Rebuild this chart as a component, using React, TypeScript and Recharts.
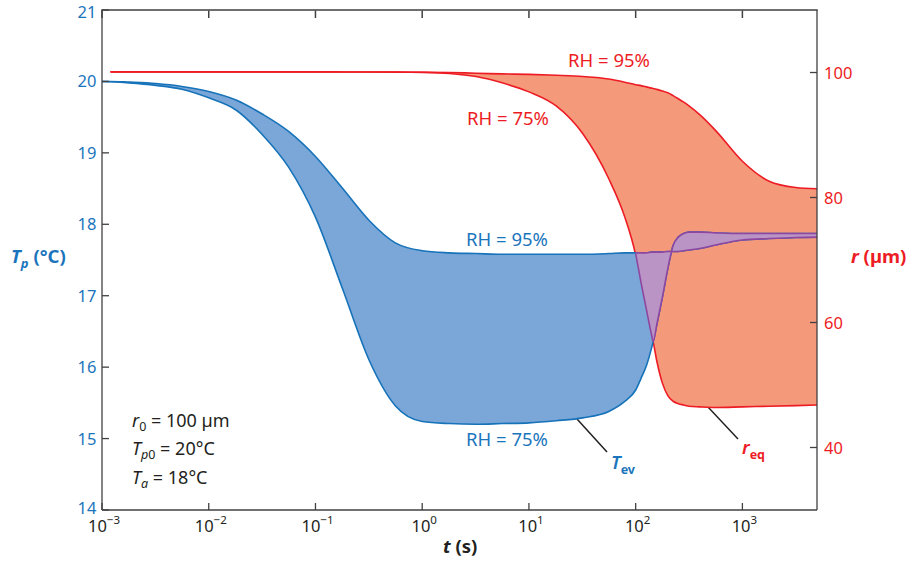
import React from 'react';
import { ComposedChart, Area, XAxis, YAxis, Customized } from 'recharts';

// time (s)
const times = [0.001, 0.0012, 0.0018, 0.0032, 0.0056, 0.01, 0.018, 0.032, 0.056, 0.1, 0.18, 0.32, 0.56, 1, 1.8, 3.2, 5.6, 10, 18, 32, 56, 79, 100, 112, 126, 141, 146, 158, 178, 200, 224, 251, 282, 316, 398, 562, 1000, 1780, 3160, 5000];
// particle temperature Tp (°C), RH = 95% and RH = 75%
const tEv95 = [20.0, 20.0, 19.99, 19.97, 19.93, 19.86, 19.74, 19.54, 19.3, 18.95, 18.5, 18.05, 17.74, 17.63, 17.6, 17.59, 17.58, 17.58, 17.58, 17.58, 17.59, 17.6, 17.6, 17.6, 17.6, 17.61, 17.61, 17.61, 17.61, 17.62, 17.62, 17.62, 17.63, 17.64, 17.66, 17.71, 17.78, 17.8, 17.815, 17.82];
const tEv75 = [20.0, 19.995, 19.98, 19.945, 19.89, 19.77, 19.6, 19.25, 18.8, 18.1, 17.09, 16.09, 15.46, 15.24, 15.21, 15.2, 15.21, 15.22, 15.25, 15.29, 15.38, 15.52, 15.68, 15.84, 16.02, 16.27, 16.36, 16.6, 16.98, 17.38, 17.7, 17.82, 17.87, 17.89, 17.89, 17.88, 17.87, 17.87, 17.87, 17.87];
// particle radius r (µm), RH = 95% and RH = 75%
const r95 = [null, 100.1, 100.1, 100.1, 100.1, 100.1, 100.1, 100.1, 100.1, 100.1, 100.09, 100.08, 100.07, 100.05, 100.0, 99.88, 99.78, 99.7, 99.55, 99.35, 98.95, 98.45, 98.05, 97.9, 97.7, 97.5, 97.45, 97.3, 97.05, 96.75, 96.3, 95.8, 95.25, 94.65, 93.25, 90.7, 85.8, 82.6, 81.6, 81.4];
const r75 = [null, 100.1, 100.1, 100.1, 100.1, 100.1, 100.1, 100.1, 100.1, 100.1, 100.09, 100.08, 100.06, 100.02, 99.85, 99.35, 98.35, 96.9, 94.65, 90.2, 83.0, 76.9, 70.8, 66.5, 62.1, 58.0, 56.9, 53.8, 50.3, 48.3, 47.4, 47.0, 46.8, 46.6, 46.5, 46.4, 46.5, 46.6, 46.7, 46.8];
// lower edge (°C) of the region where the Tp band overlaps the r band (T_eq)
const tEqEdge = [null, null, null, null, null, null, null, null, null, null, null, null, null, null, null, null, null, null, null, null, null, null, 17.59, 17.19, 16.81, 16.45, 16.36, 16.6, 16.98, 17.38, 17.7, 17.82, 17.87, 17.89, 17.89, 17.88, 17.87, 17.87, 17.87, 17.87];

const xTicks = [0.001, 0.01, 0.1, 1, 10, 100, 1000];
const xDomain = [0.001, 5000];
const tTicks = [14, 15, 16, 17, 18, 19, 20, 21];
const rTicks = [40, 60, 80, 100];

const data = times.map((t, i) => ({
  t,
  tev: [tEv75[i], tEv95[i]],
  req: r95[i] == null ? [null, null] : [r75[i], r95[i]],
  teq: tEqEdge[i] == null ? [null, null] : [tEqEdge[i], tEv95[i]],
}));

const FONT = "'Noto Sans', 'Open Sans', sans-serif";
const BLUE = '#1672b9';
const BLUE_TEXT = '#1b75bc';
const BLUE_FILL = '#7ba7d8';
const RED = '#ed1c24';
const RED_FILL = '#f5997b';
const PURPLE = '#8e46a0';
const PURPLE_FILL = '#b994c5';
const PURPLE_TEXT = '#9b59b0';
const DARK = '#231f20';
const AXIS = '#414042';

const PL = 102, PR = 817, PT = 10, PB = 510;

const LeftTick = (p: any) => {
  const v = p.payload.value;
  const dy = v === 21 ? 8 : v === 14 ? 3.5 : 6;
  return (
    <g>
      <line x1={PL} x2={PL + 7} y1={p.y} y2={p.y} stroke={AXIS} strokeWidth={1.3} />
      <text x={PL - 5.5} y={p.y + dy} textAnchor="end" fill={BLUE_TEXT} fontSize={16.5} fontFamily={FONT}>{v}</text>
    </g>
  );
};
const RightTick = (p: any) => (
  <g>
    <line x1={PR - 7} x2={PR} y1={p.y} y2={p.y} stroke={AXIS} strokeWidth={1.3} />
    <text x={PR + 7} y={p.y + 6.5} textAnchor="start" fill={RED} fontSize={16.5} fontFamily={FONT}>{p.payload.value}</text>
  </g>
);
// bottom tick: inward tick at the bottom frame + label, and the matching inward tick on the top frame
const BottomTick = (p: any) => {
  const e = Math.round(Math.log10(p.payload.value));
  return (
    <g>
      <line x1={p.x} x2={p.x} y1={PB} y2={PB - 7} stroke={AXIS} strokeWidth={1.3} />
      <line x1={p.x} x2={p.x} y1={PT + 0.5} y2={PT + 8} stroke={AXIS} strokeWidth={1.5} />
      <text x={p.x + 2} y={PB + 22} textAnchor="middle" fill={DARK} fontSize={16.5} fontFamily={FONT}>
        10<tspan fontSize={11.5} dy={-8}>{e < 0 ? '\u2212' + Math.abs(e) : String(e)}</tspan>
      </text>
    </g>
  );
};

const Annotations = () => (
  <g fontFamily={FONT}>
    {/* axis titles */}
    <text x={11} y={263} fill={BLUE_TEXT} fontSize={18.5} fontWeight="bold">
      <tspan fontStyle="italic">T</tspan>
      <tspan fontStyle="italic" fontSize={13} dy={5}>p</tspan>
      <tspan dy={-5}> (°C)</tspan>
    </text>
    <text x={851} y={263} fill={RED} fontSize={18.5} fontWeight="bold">
      <tspan fontStyle="italic">r</tspan> (µm)
    </text>
    <text x={443} y={553} fill={DARK} fontSize={18.5} fontWeight="bold">
      <tspan fontStyle="italic">t</tspan> (s)
    </text>
    {/* RH labels */}
    <text x={568} y={67} fill={RED} fontSize={18.5}>RH = 95%</text>
    <text x={467} y={125} fill={RED} fontSize={18.5}>RH = 75%</text>
    <text x={466} y={245.5} fill={BLUE_TEXT} fontSize={18.5}>RH = 95%</text>
    <text x={466} y={445.5} fill={BLUE_TEXT} fontSize={18.5}>RH = 75%</text>
    {/* leader lines */}
    <line x1={577} y1={419} x2={607} y2={452} stroke={DARK} strokeWidth={1.5} />
    <line x1={708} y1={407} x2={738} y2={439} stroke={DARK} strokeWidth={1.5} />
    <line x1={763} y1={237} x2={733} y2={269} stroke="#ffffff" strokeWidth={4} />
    <line x1={763} y1={237} x2={733} y2={269} stroke={DARK} strokeWidth={1.5} />
    {/* series labels */}
    <text x={611} y={469} fill={BLUE_TEXT} fontSize={18.5} fontWeight={600}>
      <tspan fontStyle="italic">T</tspan>
      <tspan fontSize={12.5} fontWeight="bold" dy={5}>ev</tspan>
    </text>
    <text x={742} y={454} fill={RED} fontSize={18.5} fontWeight={600}>
      <tspan fontStyle="italic">r</tspan>
      <tspan fontSize={12.5} fontWeight="bold" dy={4.5}>eq</tspan>
    </text>
    <text x={724} y={289} fill={PURPLE_TEXT} fontSize={18.5} fontWeight={600}>
      <tspan fontStyle="italic">T</tspan>
      <tspan fontSize={12.5} fontWeight="bold" dy={4.5}>eq</tspan>
    </text>
    {/* parameters */}
    <text x={132} y={426.5} fill={DARK} fontSize={18}>
      <tspan fontStyle="italic">r</tspan>
      <tspan fontSize={12.5} dy={4}>0</tspan>
      <tspan dy={-4}> = 100 µm</tspan>
    </text>
    <text x={132} y={455} fill={DARK} fontSize={18}>
      <tspan fontStyle="italic">T</tspan>
      <tspan fontSize={12.5} fontStyle="italic" dy={4}>p</tspan>
      <tspan fontSize={12.5}>0</tspan>
      <tspan dy={-4}> = 20°C</tspan>
    </text>
    <text x={132} y={484} fill={DARK} fontSize={18}>
      <tspan fontStyle="italic">T</tspan>
      <tspan fontSize={12.5} fontStyle="italic" dy={4}>a</tspan>
      <tspan dy={-4}> = 18°C</tspan>
    </text>
  </g>
);

// top edge of the plot frame, drawn as a filled band so it cannot be lost
const TopFrame = () => (
  <rect x={PL - 0.7} y={PT - 0.75} width={PR - PL + 1.4} height={1.5} fill={AXIS} />
);

export default function App() {
  return (
    <div style={{ position: 'absolute', left: 0, top: 0, width: 915, height: 561, background: '#fff' }}>
      <ComposedChart width={915} height={561} data={data} margin={{ top: PT, right: 0, bottom: 0, left: 0 }}>
        <XAxis
          xAxisId="b"
          dataKey="t"
          type="number"
          scale="log"
          domain={xDomain}
          allowDataOverflow
          ticks={xTicks}
          interval={0}
          height={51}
          tickLine={false}
          tickSize={0}
          axisLine={{ stroke: AXIS, strokeWidth: 1.3 }}
          tick={BottomTick}
        />
        <YAxis
          yAxisId="T"
          orientation="left"
          type="number"
          domain={[14, 21]}
          ticks={tTicks}
          interval={0}
          width={PL}
          tickLine={false}
          tickSize={0}
          axisLine={{ stroke: AXIS, strokeWidth: 1.3 }}
          tick={LeftTick}
        />
        <YAxis
          yAxisId="r"
          orientation="right"
          type="number"
          domain={[30, 110]}
          ticks={rTicks}
          interval={0}
          width={915 - PR}
          tickLine={false}
          tickSize={0}
          axisLine={{ stroke: AXIS, strokeWidth: 1.3 }}
          tick={RightTick}
        />
        <Area
          xAxisId="b"
          yAxisId="r"
          dataKey="req"
          type="monotone"
          stroke={RED}
          strokeWidth={1.6}
          fill={RED_FILL}
          fillOpacity={1}
          isAnimationActive={false}
          dot={false}
          activeDot={false}
        />
        <Area
          xAxisId="b"
          yAxisId="T"
          dataKey="tev"
          type="monotone"
          stroke={BLUE}
          strokeWidth={1.6}
          fill={BLUE_FILL}
          fillOpacity={1}
          isAnimationActive={false}
          dot={false}
          activeDot={false}
        />
        <Area
          xAxisId="b"
          yAxisId="T"
          dataKey="teq"
          type="monotone"
          stroke={PURPLE}
          strokeWidth={1.6}
          fill={PURPLE_FILL}
          fillOpacity={1}
          isAnimationActive={false}
          dot={false}
          activeDot={false}
        />
        <Customized component={Annotations} />
        <Customized component={TopFrame} />
      </ComposedChart>
    </div>
  );
}
